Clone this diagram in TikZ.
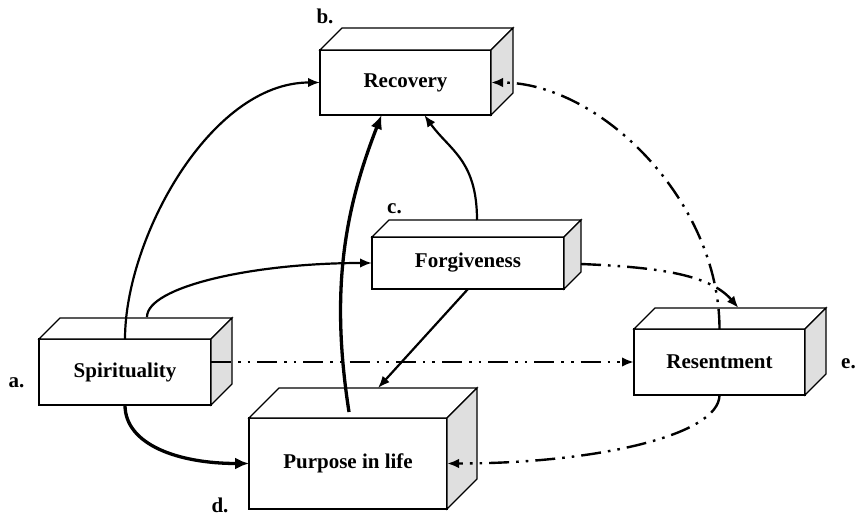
\documentclass[tikz,border=0pt]{standalone}
\usepackage{fontspec}
\setmainfont{Liberation Serif}
\usetikzlibrary{arrows.meta,calc}

\begin{document}
\begin{tikzpicture}[x=1pt, y=1pt,
	box/.style={rectangle, draw, fill=white, line width=1.1pt, outer sep=0pt, inner sep=0pt, font=\bfseries\fontsize{21}{25}\selectfont},
	face/.style={draw, fill=white, line width=1.1pt},
	tag/.style={inner sep=0pt, font=\bfseries\fontsize{21}{25}\selectfont},
	link/.style={line width=2.2pt, -{Latex[length=12pt,width=9.5pt]}},
	strong/.style={line width=3.3pt, -{Latex[length=14pt,width=12pt]}},
	weak/.style={link, line width=2.4pt, dash pattern=on 20pt off 7pt on 2.6pt off 7pt on 2.6pt off 7pt}]
	\useasboundingbox (0,0) rectangle (857,515);

	\node[box, minimum width=172pt, minimum height=66pt] (spir) at (125,143) {Spirituality};
	\node[box, minimum width=171pt, minimum height=65pt] (rec) at (405.5,432.5) {Recovery};
	\node[box, minimum width=192pt, minimum height=52pt] (forg) at (468,252) {Forgiveness};
	\node[box, minimum width=198pt, minimum height=91pt] (purp) at (348,51.5) {Purpose in life};
	\node[box, minimum width=171pt, minimum height=66pt] (res) at (719.5,153) {Resentment};

	% top and side faces
	\foreach \n/\d in {spir/21, rec/22, forg/17, purp/30, res/21} {
		\draw[face] (\n.north west) -- ++(\d,\d) -- ($(\n.north east)+(\d,\d)$) -- (\n.north east) -- cycle;
		\draw[face, fill=gray!25] (\n.north east) -- ++(\d,\d) -- ($(\n.south east)+(\d,\d)$) -- (\n.south east) -- cycle;
	}

	\node[tag] (la) at (16.5,132.5) {a.};
	\node[tag] (lb) at (325,499) {b.};
	\node[tag] (lc) at (394.5,306.5) {c.};
	\node[tag] (ld) at (220,10) {d.};
	\node[tag] (le) at (848.5,151.5) {e.};

	\draw[link] (spir.north) .. controls +(0,100) and +(-110,0) .. (rec.west);
	\draw[link] ($(spir.north)+(22,22)$) .. controls +(0,30) and +(-120,0) .. (forg.west);
	\draw[strong] (spir.south) .. controls +(0,-40) and +(-70,0) .. (purp.west);
	\draw[weak] (spir.east |- res.west) -- (res.west);
	\draw[strong] ($(purp.north)+(1,6)$) .. controls +(-19,122) and +(-37,-95) .. ($(rec.south west)!0.36!(rec.south east)$);
	\draw[link] ($(forg.north)+(9,17)$) .. controls +(0,60) and +(25,-35) .. ($(rec.south west)!0.61!(rec.south east)$);
	\draw[link] (forg.south) -- ($(purp.north)+(30,30)$);
	\draw[weak] ($(forg.east)+(17,-1)$) .. controls +(70,-3) and +(-30,35) .. ($(res.north)+(19,21)$);
	\draw[weak] (res.north) .. controls +(0,128) and +(109,0) .. (rec.east);
	\draw[weak] (res.south) .. controls +(0,-40) and +(150,0) .. (purp.east);
\end{tikzpicture}
\end{document}
